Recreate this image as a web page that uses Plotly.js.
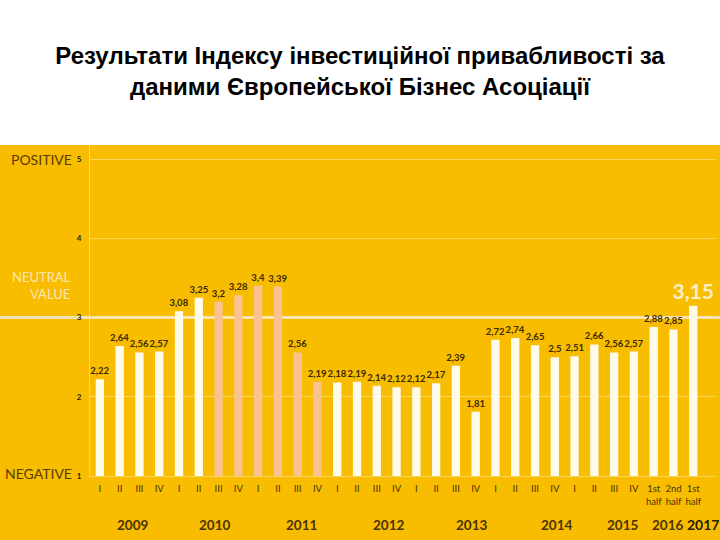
<!DOCTYPE html>
<html>
<head>
<meta charset="utf-8">
<script src="https://cdn.plot.ly/plotly-3.0.1.min.js"></script>
<style>html,body{margin:0;padding:0;background:#fff;}#chart{width:720px;height:540px;}</style>
</head>
<body>
<div id="chart"></div>
<script>
// ---- data ----
const periods = ["2009 I","2009 II","2009 III","2009 IV","2010 I","2010 II","2010 III","2010 IV",
  "2011 I","2011 II","2011 III","2011 IV","2012 I","2012 II","2012 III","2012 IV",
  "2013 I","2013 II","2013 III","2013 IV","2014 I","2014 II","2014 III","2014 IV",
  "2015 I","2015 II","2015 III","2015 IV","2016 H1","2016 H2","2017 H1"];
const tickLabels = ["I","II","III","IV","I","II","III","IV","I","II","III","IV","I","II","III","IV",
  "I","II","III","IV","I","II","III","IV","I","II","III","IV","1st<br>half","2nd<br>half","1st<br>half"];
const indexValues = [2.22,2.64,2.56,2.57,3.08,3.25,3.2,3.28,3.4,3.39,2.56,2.19,2.18,2.19,2.14,2.12,
  2.12,2.17,2.39,1.81,2.72,2.74,2.65,2.5,2.51,2.66,2.56,2.57,2.88,2.85,3.15];
const highlighted = [false,false,false,false,false,false,true,true,true,true,true,true,false,false,false,false,
  false,false,false,false,false,false,false,false,false,false,false,false,false,false,false];
const years = ["2009","2010","2011","2012","2013","2014","2015","2016","2017"];
const yearPos = [1.67,5.77,10.17,14.6,18.8,23.1,26.4,28.7,30.5];
const yTicks = [1,2,3,4,5];

// ---- styling ----
const yellow = "#F8BD00";
const dark = "#4A3300";
const xIdx = periods.map((_, i) => i);
const last = indexValues.length - 1;
const barColors = highlighted.map(h => h ? "#F8C390" : "#FFFBEA");
const labelText = indexValues.map(v => String(v).replace(".", ","));
const labelSizes = indexValues.map((_, i) => i === last ? 21 : 9.5);
const labelColors = indexValues.map((_, i) => i === last ? "#FCEFC8" : "#3A2800");

const trace = {
  type: "bar",
  x: xIdx,
  y: indexValues,
  width: 0.42,
  marker: {color: barColors, line: {width: 0}},
  text: labelText,
  textposition: "outside",
  constraintext: "none",
  textfont: {family: "Lato, sans-serif", size: labelSizes, color: labelColors, weight: "bold"},
  cliponaxis: false,
  hoverinfo: "skip"
};

const annotations = years.map((yr, i) => ({
  x: yearPos[i], xref: "x", y: -0.148, yref: "paper", yanchor: "middle",
  text: yr, showarrow: false,
  font: {family: "Lato, sans-serif", size: i === years.length - 1 ? 14 : 13.5, color: i === years.length - 1 ? "#2A1C00" : dark, weight: "bold"}
}));
annotations.push(
  {xref: "paper", x: -0.025, xanchor: "right", yref: "y", y: 5.0, yanchor: "middle", text: "POSITIVE", showarrow: false,
   font: {family: "Lato, sans-serif", size: 14, color: "#5A3C00"}},
  {xref: "paper", x: -0.028, xanchor: "right", yref: "y", y: 3.40, yanchor: "middle", align: "right", text: "NEUTRAL<br>VALUE", showarrow: false,
   font: {family: "Lato, sans-serif", size: 13, color: "#FAE6B4"}},
  {xref: "paper", x: -0.025, xanchor: "right", yref: "y", y: 1.03, yanchor: "middle", text: "NEGATIVE", showarrow: false,
   font: {family: "Lato, sans-serif", size: 14, color: "#5A3C00"}}
);

const layout = {
  width: 720, height: 540,
  margin: {l: 90, r: 5, t: 145, b: 64},
  paper_bgcolor: yellow,
  plot_bgcolor: yellow,
  showlegend: false,
  title: {
    text: "Результати Індексу інвестиційної привабливості за<br>даними Європейської Бізнес Асоціації",
    x: 0.5, xanchor: "center", y: 0.882, yref: "container", yanchor: "middle",
    font: {family: "Liberation Sans, Arial, sans-serif", size: 24, color: "#000", weight: "bold"}
  },
  xaxis: {
    range: [-0.5, 31.1],
    tickmode: "array", tickvals: xIdx, ticktext: tickLabels,
    tickfont: {family: "Lato, sans-serif", size: 9.5, color: dark},
    ticklabelstandoff: 4,
    showgrid: false, zeroline: false, ticks: "", fixedrange: true,
    showline: true, linecolor: "rgba(255,236,170,0.55)", linewidth: 1
  },
  yaxis: {
    range: [1, 5.177],
    tickmode: "array", tickvals: yTicks,
    tickfont: {family: "Lato, sans-serif", size: 8, color: "#2A1C00", weight: "bold"},
    ticklabelstandoff: 6,
    showgrid: true, gridcolor: "rgba(255,236,170,0.55)", gridwidth: 1,
    zeroline: false, ticks: "",
    showline: true, linecolor: "rgba(255,236,170,0.55)", linewidth: 1
  },
  shapes: [
    {type: "rect", xref: "paper", yref: "paper", x0: -0.2, x1: 1.1, y0: 1, y1: 1.6,
     fillcolor: "#FFFFFF", line: {width: 0}, layer: "below"},
    {type: "line", xref: "paper", yref: "y", x0: -0.145, x1: 1.01, y0: 3, y1: 3,
     line: {color: "#F4E2B2", width: 3}, layer: "below"}
  ],
  annotations: annotations
};

Plotly.newPlot("chart", [trace], layout, {displayModeBar: false, staticPlot: true});
</script>
</body>
</html>
